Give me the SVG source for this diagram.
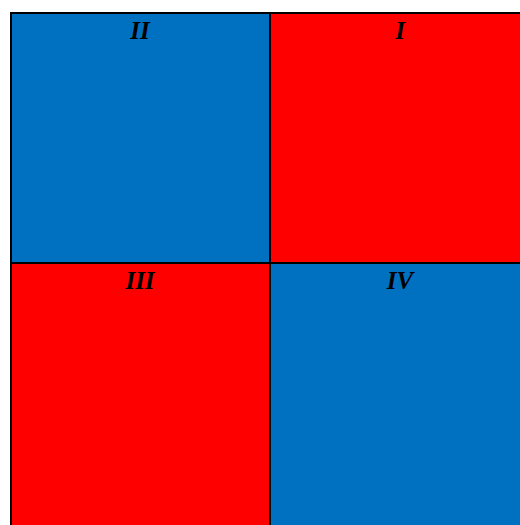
<svg xmlns="http://www.w3.org/2000/svg" width="520" height="525" viewBox="0 0 520 525">
<style>
.cell{stroke:#000;stroke-width:2}
.blue{fill:#0070C0}
.red{fill:#FF0000}
.lbl{font-family:"Liberation Serif",serif;font-weight:bold;font-style:italic;font-size:25px;text-anchor:middle;fill:#000}
</style>
<rect width="520" height="525" fill="#fff"/>
<g id="q2"><rect class="cell blue" x="11" y="13" width="259" height="250"/><text class="lbl" x="140" y="38.5">II</text></g>
<g id="q1"><rect class="cell red" x="270" y="13" width="262" height="250"/><text class="lbl" x="400" y="38.5">I</text></g>
<g id="q3"><rect class="cell red" x="11" y="263" width="259" height="280"/><text class="lbl" x="140" y="288.5">III</text></g>
<g id="q4"><rect class="cell blue" x="270" y="263" width="262" height="280"/><text class="lbl" x="400" y="288.5">IV</text></g>
<g id="connectors"/>
</svg>
